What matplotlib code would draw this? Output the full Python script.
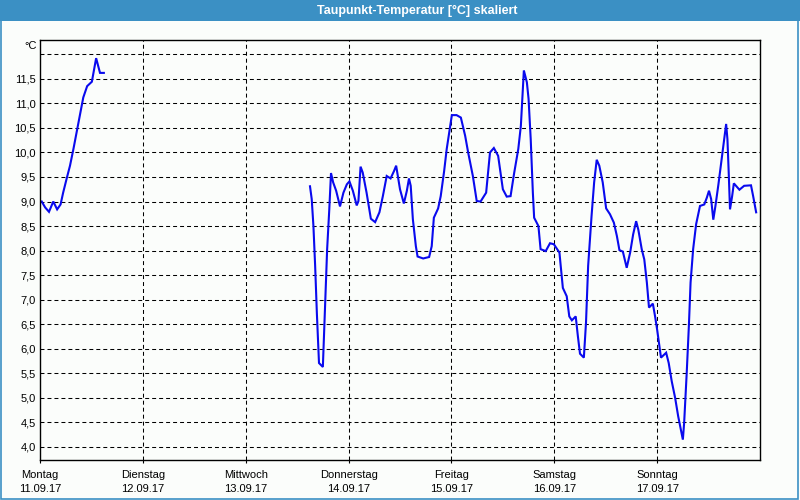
import numpy as np
import matplotlib
matplotlib.use("Agg")
import matplotlib.pyplot as plt
from matplotlib.patches import Rectangle

plt.rcParams['font.family'] = ['Liberation Sans', 'DejaVu Sans']

TITLE = "Taupunkt-Temperatur [°C] skaliert"
DAYS = ["Montag", "Dienstag", "Mittwoch", "Donnerstag", "Freitag", "Samstag", "Sonntag"]
DATES = ["11.09.17", "12.09.17", "13.09.17", "14.09.17", "15.09.17", "16.09.17", "17.09.17"]

# hours since Monday 00:00 and dew point in °C (nan = no data)
hours = [0.4, 1.2, 2.1, 3.1, 4.0, 4.8, 5.4, 6.2, 7.0, 7.8, 8.7, 9.5, 10.1, 11.0,
         12.1, 13.1, 14.0, 14.9,
         40.0,
         63.0, 63.4, 63.8, 64.2, 64.6, 65.1, 66.0, 66.5, 67.0, 67.5, 67.9, 68.4,
         69.1, 70.0, 70.8, 71.6, 72.2, 73.0, 73.9, 74.3, 74.8, 75.3, 76.2, 77.2,
         78.2, 79.2, 80.0, 80.9, 81.8, 82.6, 83.1, 84.0, 84.9, 85.6, 86.1, 86.5,
         87.0, 87.7, 88.1, 89.4, 90.8, 91.4, 91.9, 92.9, 93.5, 94.3, 94.9, 95.7,
         96.1, 97.2, 98.2, 99.2, 99.9, 101.0, 101.9, 102.8, 104.1, 105.0, 105.9,
         106.9, 108.0, 108.9, 109.8, 110.6, 111.6, 112.2, 112.9, 113.6, 114.0,
         114.5, 115.0, 115.3, 116.3, 116.8, 118.0, 119.0, 119.9, 121.2, 122.0,
         122.9, 123.5, 124.1, 125.0, 125.5, 126.0, 126.9, 127.4, 127.9, 128.7,
         129.3, 129.9, 130.5, 131.3, 132.1, 133.0, 133.9, 134.6, 135.2, 136.0,
         136.9, 137.7, 138.4, 139.1, 139.6, 140.4, 141.0, 141.6, 142.1, 143.0,
         143.5, 144.0, 144.9, 146.1, 146.7, 147.4, 148.2, 148.9, 150.0, 150.3,
         150.9, 151.4, 151.8, 152.4, 153.1, 154.0, 155.0, 155.6, 156.1, 156.6,
         157.1, 157.6, 158.3, 158.8, 159.6, 160.1, 160.4, 160.7, 161.0, 161.5,
         161.9, 163.2, 164.3, 165.9, 166.4, 167.1]
dewpoint = [9.00, 8.88, 8.79, 9.00, 8.84, 8.94, 9.18, 9.46, 9.73, 10.07, 10.48,
            10.85, 11.12, 11.35, 11.44, 11.92, 11.62, 11.62,
            np.nan,
            9.31, 9.05, 8.50, 7.69, 6.73, 5.71, 5.63, 6.80, 8.03, 8.84, 9.58, 9.39,
            9.22, 8.90, 9.18, 9.35, 9.41, 9.22, 8.92, 9.01, 9.71, 9.59, 9.18, 8.65,
            8.58, 8.78, 9.11, 9.52, 9.47, 9.62, 9.73, 9.25, 8.96, 9.22, 9.47, 9.32,
            8.64, 8.09, 7.88, 7.84, 7.87, 8.09, 8.67, 8.86, 9.11, 9.62, 10.07, 10.54,
            10.76, 10.76, 10.71, 10.34, 10.00, 9.52, 9.01, 9.00, 9.18, 10.00, 10.09,
            9.93, 9.25, 9.10, 9.11, 9.56, 10.07, 10.54, 11.67, 11.43, 11.09,
            10.27, 9.18, 8.67, 8.50, 8.03, 7.99, 8.15, 8.13, 7.96, 7.24,
            7.07, 6.66, 6.58, 6.66, 6.26, 5.90, 5.82, 6.53, 7.69, 8.71,
            9.39, 9.85, 9.73, 9.39, 8.86, 8.74, 8.57, 8.30, 8.01, 7.98,
            7.65, 7.96, 8.33, 8.60, 8.43, 8.03, 7.82, 7.35, 6.84, 6.92,
            6.67, 6.39, 5.82, 5.92, 5.71, 5.34, 5.00, 4.63, 4.15, 4.49,
            5.51, 6.46, 7.35, 8.03, 8.54, 8.91, 8.94, 9.08, 9.22, 9.05,
            8.63, 8.91, 9.35, 9.69, 10.24, 10.58, 10.27, 9.59, 8.84, 9.11,
            9.37, 9.24, 9.32, 9.33, 9.11, 8.78]

y_ticks = np.arange(4.0, 12.01, 0.5)
y_labels = [f"{v:.1f}".replace(".", ",") for v in y_ticks[:-1]] + [""]

bg = "#fbfdfb"
bar_blue = "#3b90c4"

fig = plt.figure(figsize=(8, 5), dpi=100, facecolor=bg)
ax = fig.add_axes([0.05, 0.08, 0.90, 0.84], facecolor=bg)

ax.plot(hours, dewpoint, color="#0a0aee", lw=1.5, solid_joinstyle="miter")

ax.set_xlim(0, 168)
ax.set_ylim(3.735, 12.29)
ax.set_xticks(np.arange(0, 168, 24))
ax.set_xticklabels([f"{d}\n{t}" for d, t in zip(DAYS, DATES)], fontsize=8,
                   linespacing=1.5)
ax.set_yticks(y_ticks)
ax.set_yticklabels(y_labels, fontsize=8)
ax.tick_params(axis="x", length=2.5, width=0.8, direction="out", pad=5, colors="black")
ax.tick_params(axis="y", length=0, pad=3)

for v in y_ticks:
    ax.axhline(v, color="black", lw=0.75, ls=(0, (3.8, 2.9)), zorder=0)
for h in np.arange(24, 168, 24):
    ax.axvline(h, color="black", lw=0.75, ls=(0, (3.8, 2.9)), zorder=0)

for s in ax.spines.values():
    s.set_linewidth(1.0)
    s.set_color("black")

fig.text(31 / 800, 1 - 46 / 500, "°C", ha="center", va="center", fontsize=8)

# window title bar and frame
fig.patches.append(Rectangle((0, 1 - 21 / 500), 1, 21 / 500, transform=fig.transFigure,
                             facecolor=bar_blue, edgecolor="none", zorder=0))
fig.patches.append(Rectangle((0.5 / 800, 1.5 / 500), 797.5 / 800, 497 / 500,
                             transform=fig.transFigure, facecolor="none",
                             edgecolor=bar_blue, lw=1.2, zorder=0))
fig.text(417 / 800, 1 - 10.5 / 500, TITLE, ha="center", va="center", color="white",
         fontsize=9, fontweight="bold")

fig.savefig("out.png", dpi=100, facecolor=bg)
